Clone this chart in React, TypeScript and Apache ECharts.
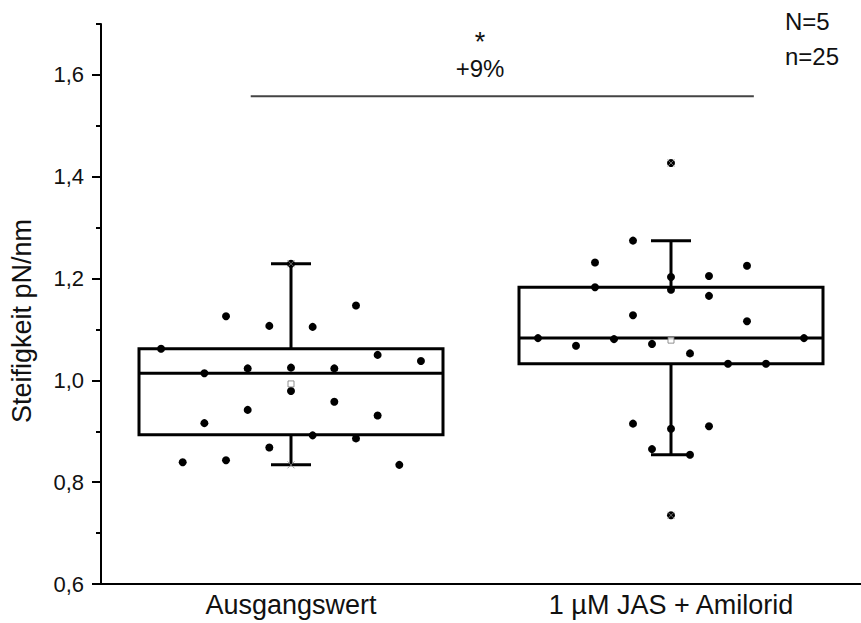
import React, { useEffect, useRef } from "react";
import * as echarts from "echarts";

// ---- data ----
const categories = ["Ausgangswert", "1 µM JAS + Amilorid"];
const yLabelValues = [0.6, 0.8, 1.0, 1.2, 1.4, 1.6];
const yMinorValues = [0.7, 0.9, 1.1, 1.3, 1.5, 1.7];

const boxQ1 = [0.893, 1.0325];
const boxMedian = [1.014, 1.083];
const boxQ3 = [1.062, 1.183];
const whiskerLow = [0.834, 0.854];
const whiskerHigh = [1.229, 1.274];
const means = [0.993, 1.079];
const minima = [0.834, 0.735];
const maxima = [1.229, 1.427];

// individual measurements: jitter column and value
const group0Columns = [-6, -5, -4, -4, -3, -3, -2, -2, -1, -1, 0, 0, 0, 1, 1, 2, 2, 3, 3, 4, 4, 5, 6];
const group0Values = [1.062, 0.839, 1.014, 0.916, 1.126, 0.843, 1.0235, 0.942, 1.107, 0.868, 1.229, 1.025, 0.979, 1.105, 0.892, 1.0235, 0.958, 1.147, 0.886, 1.05, 0.931, 0.834, 1.038];
const group1Columns = [0, 0, 0, 0, 0, -2, -2, -2, -4, -4, 4, 4, 2, 2, 2, -7, -5, -3, -1, -1, 7, 1, 1, 3, 5];
const group1Values = [1.427, 1.203, 1.178, 0.905, 0.735, 1.2745, 1.128, 0.915, 1.2315, 1.183, 1.225, 1.116, 1.205, 1.166, 0.91, 1.083, 1.068, 1.081, 1.0716, 0.865, 1.083, 1.053, 0.854, 1.0325, 1.0325];
const jitterStep = [0.057, 0.05];

const sigLineX = [-0.106, 1.218];
const sigLineY = 1.558;

const FONT = "'Liberation Sans', Arial, sans-serif";

export default function App() {
  const ref = useRef<HTMLDivElement>(null);

  useEffect(() => {
    document.body.style.margin = "0";
    const chart = echarts.init(ref.current!, null, { renderer: "svg" });

    const boxData = categories.map((_, i) => [i, boxQ1[i], boxMedian[i], boxQ3[i], whiskerLow[i], whiskerHigh[i]]);
    const points: number[][] = [];
    group0Values.forEach((v, k) => points.push([0 + group0Columns[k] * jitterStep[0], v]));
    group1Values.forEach((v, k) => points.push([1 + group1Columns[k] * jitterStep[1], v]));
    const meanData = means.map((m, i) => [i, m]);
    const extremeData = [...minima.map((m, i) => [i, m]), ...maxima.map((m, i) => [i, m])];

    const option: any = {
      animation: false,
      grid: { left: 101, top: 24, width: 760, height: 560 },
      xAxis: [
        {
          type: "category",
          data: categories,
          boundaryGap: true,
          axisLine: { onZero: false, lineStyle: { color: "#000", width: 2 } },
          axisTick: { alignWithLabel: true, length: 8, lineStyle: { color: "#000", width: 1.5 } },
          axisLabel: { color: "#111", fontSize: 27, fontFamily: FONT, margin: 7 },
          splitLine: { show: false },
        },
        { type: "value", min: -0.5, max: 1.5, show: false },
      ],
      yAxis: [
        {
          type: "value",
          min: 0.6,
          max: 1.7,
          axisLine: { show: true, onZero: false, lineStyle: { color: "#000", width: 2 } },
          axisTick: { show: true, length: 9, customValues: yLabelValues, lineStyle: { color: "#000", width: 2 } },
          axisLabel: {
            customValues: yLabelValues,
            color: "#111",
            fontSize: 22,
            fontFamily: FONT,
            margin: 17,
            formatter: (v: number) => v.toFixed(1).replace(".", ","),
          },
          splitLine: { show: false },
        },
        {
          type: "value",
          min: 0.6,
          max: 1.7,
          position: "left",
          axisLine: { show: false, onZero: false },
          axisTick: { show: true, length: 5, customValues: yMinorValues, lineStyle: { color: "#000", width: 2 } },
          axisLabel: { show: false },
          splitLine: { show: false },
        },
      ],
      graphic: [
        {
          type: "text",
          x: 22,
          y: 321,
          rotation: Math.PI / 2,
          style: { text: "Steifigkeit pN/nm", fontSize: 27, fontFamily: FONT, fill: "#111", align: "center", verticalAlign: "middle" },
        },
        { type: "text", x: 480, y: 42, style: { text: "*", fontSize: 27, fontFamily: FONT, fill: "#111", align: "center", verticalAlign: "middle" } },
        { type: "text", x: 480, y: 68, style: { text: "+9%", fontSize: 24, fontFamily: FONT, fill: "#111", align: "center", verticalAlign: "middle" } },
        { type: "text", x: 785, y: 21, style: { text: "N=5", fontSize: 24, fontFamily: FONT, fill: "#111", align: "left", verticalAlign: "middle" } },
        { type: "text", x: 785, y: 56, style: { text: "n=25", fontSize: 24, fontFamily: FONT, fill: "#111", align: "left", verticalAlign: "middle" } },
      ],
      series: [
        {
          type: "custom",
          xAxisIndex: 1,
          yAxisIndex: 0,
          encode: { x: 0, y: [1, 2, 3, 4, 5] },
          data: boxData,
          renderItem: (params: any, api: any) => {
            const x = api.value(0);
            const q1 = api.coord([x, api.value(1)]);
            const med = api.coord([x, api.value(2)]);
            const q3 = api.coord([x, api.value(3)]);
            const lo = api.coord([x, api.value(4)]);
            const hi = api.coord([x, api.value(5)]);
            const bw = api.size([1, 0])[0] * 0.8;
            const cx = q1[0];
            const cap = 20;
            const st = { stroke: "#000", lineWidth: 3, fill: null };
            return {
              type: "group",
              children: [
                { type: "line", shape: { x1: cx, y1: q3[1], x2: cx, y2: hi[1] }, style: st },
                { type: "line", shape: { x1: cx, y1: q1[1], x2: cx, y2: lo[1] }, style: st },
                { type: "line", shape: { x1: cx - cap, y1: hi[1], x2: cx + cap, y2: hi[1] }, style: st },
                { type: "line", shape: { x1: cx - cap, y1: lo[1], x2: cx + cap, y2: lo[1] }, style: st },
                { type: "rect", shape: { x: cx - bw / 2, y: q3[1], width: bw, height: q1[1] - q3[1] }, style: { stroke: "#000", lineWidth: 3, fill: "none" } },
                { type: "line", shape: { x1: cx - bw / 2, y1: med[1], x2: cx + bw / 2, y2: med[1] }, style: st },
              ],
            };
          },
          z: 2,
        },
        {
          type: "line",
          xAxisIndex: 1,
          yAxisIndex: 0,
          data: [[sigLineX[0], sigLineY], [sigLineX[1], sigLineY]],
          symbol: "none",
          lineStyle: { color: "#444", width: 2 },
          z: 2,
        },
        {
          type: "scatter",
          xAxisIndex: 1,
          yAxisIndex: 0,
          data: points,
          symbol: "circle",
          symbolSize: 8,
          itemStyle: { color: "#000", opacity: 1 },
          z: 3,
        },
        {
          type: "scatter",
          xAxisIndex: 1,
          yAxisIndex: 0,
          data: extremeData,
          symbol: "path://M0,0L10,10M10,0L0,10",
          symbolSize: 7,
          itemStyle: { color: "none", borderColor: "#888", borderWidth: 1 },
          z: 4,
        },
        {
          type: "scatter",
          xAxisIndex: 1,
          yAxisIndex: 0,
          data: meanData,
          symbol: "rect",
          symbolSize: 6,
          itemStyle: { color: "#fff", borderColor: "#777", borderWidth: 1 },
          z: 4,
        },
      ],
    };
    chart.setOption(option);
    return () => chart.dispose();
  }, []);

  return <div ref={ref} style={{ width: 861, height: 623 }} />;
}
